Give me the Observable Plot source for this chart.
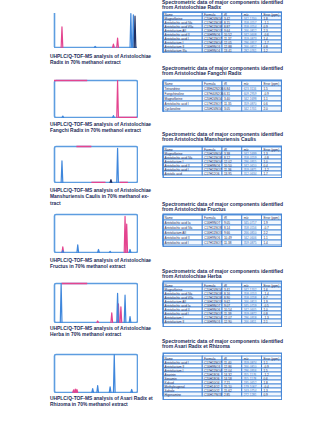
<!DOCTYPE html>
<html>
<head>
<meta charset="utf-8">
<script src="https://cdn.jsdelivr.net/npm/d3@7"></script>
<script src="https://cdn.jsdelivr.net/npm/@observablehq/plot@0.6"></script>
<style>
  html, body { margin: 0; padding: 0; background: #fff; }
  #page { position: relative; width: 334px; height: 439px; overflow: hidden; background: #fff; }
  .abs { position: absolute; }
  .cap, .ttl { font-family: "Liberation Sans", Arial, sans-serif; font-weight: bold; color: #1c2b58; white-space: nowrap; }
  .cap { font-size: 4.9px; line-height: 6.6px; }
  .ttl { font-size: 5px; line-height: 5.2px; }
  svg { display: block; }
</style>
</head>
<body>
<div id="page"></div>
<script>
// ---------- DATA ----------
const samples = [
  "Aristolochiae Radix",
  "Aristolochiae Fangchi Radix",
  "Aristolochia Manshuriensis Caulis",
  "Aristolochiae Fructus",
  "Aristolochiae Herba",
  "Asari Radix et Rhizoma"
];

const captions = [
  ["UHPLC/Q-TOF-MS analysis of Aristolochiae", "Radix in 70% methanol extract"],
  ["UHPLC/Q-TOF-MS analysis of Aristolochiae", "Fangchi Radix in 70% methanol extract"],
  ["UHPLC/Q-TOF-MS analysis of Aristolochiae", "Manshuriensis Caulis in 70% methanol ex-", "tract"],
  ["UHPLC/Q-TOF-MS analysis of Aristolochiae", "Fructus in 70% methanol extract"],
  ["UHPLC/Q-TOF-MS analysis of Aristolochiae", "Herba in 70% methanol extract"],
  ["UHPLC/Q-TOF-MS analysis of Asari Radix et", "Rhizoma in 70% methanol extract"]
];

const tableTitles = [
  ["Spectrometric data of major components identified", "from Aristolochiae Radix"],
  ["Spectrometric data of major components identified", "from Aristolochiae Fangchi Radix"],
  ["Spectrometric data of major components identified", "from Aristolochia Manshuriensis Caulis"],
  ["Spectrometric data of major components identified", "from Aristolochiae Fructus"],
  ["Spectrometric data of major components identified", "from Aristolochiae Herba"],
  ["Spectrometric data of major components identified", "from Asari Radix et Rhizoma"]
];

const tableHeader = ["Name", "Formula", "tR", "m/z", "Error (ppm)"];

// chromatogram peaks: [retention position (0-100), relative height (0-100)]
const bluePeaks1 = [[49, 3], [92, 100], [95, 96]];
const pinkPeaks1 = [[9, 61], [71, 10], [76, 28]];
const darkPeaks1 = [[97, 92]];

const bluePeaks2 = [[10, 4], [71, 5]];
const pinkPeaks2 = [[76, 100]];
const pinkSegs2 = [[0, 40, 100], [77, 100, 0]];

const bluePeaks3 = [[9, 60], [76, 95]];
const pinkPeaks3 = [];
const darkPeaks3 = [[68, 8]];
const pinkSegs3 = [[27, 45, 100], [45, 62, 0], [79, 89, 0]];

const bluePeaks4 = [[10, 5], [28, 20], [53, 8], [67, 3], [91, 8]];
const pinkPeaks4 = [[10, 15], [85, 95], [87, 75]];

const bluePeaks5 = [[8, 100], [76, 75], [85, 70], [91, 15]];
const pinkPeaks5 = [[52, 4], [69, 25], [77, 48], [80, 40]];
const pinkSegs5 = [[9, 40, 100]];

const bluePeaks6 = [[46, 10], [52, 18], [67, 15], [72, 100], [93, 8]];
const pinkPeaks6 = [[23, 7], [25, 9], [27, 8]];

const rows1 = [
  ["Magnoflorine", "C20H24NO4", "3.42", "342.1700", "1.8"],
  ["Aristolochic acid IVa", "C17H11NO8", "8.15", "358.0557", "-1.1"],
  ["Aristolochic acid VIIa", "C17H11NO8", "8.87", "358.0554", "0.9"],
  ["Aristolactam AII", "C16H11NO3", "9.64", "266.0812", "2.3"],
  ["Aristolochic acid II", "C16H9NO6", "10.52", "342.0608", "-0.6"],
  ["Aristolochic acid I", "C17H11NO7", "11.37", "359.0873", "1.4"],
  ["Aristolactam I", "C17H11NO4", "12.05", "296.0917", "-1.7"],
  ["Aristolactam II", "C16H9NO3", "12.88", "266.0812", "0.8"],
  ["Aristolactam IIIa", "C16H9NO4", "13.41", "282.0761", "1.2"]
];
const rows2 = [
  ["Tetrandrine", "C38H42N2O6", "6.84", "623.3116", "1.5"],
  ["Fangchinoline", "C37H40N2O6", "6.31", "609.2959", "-0.9"],
  ["Magnoflorine", "C20H24NO4", "3.40", "342.1698", "1.1"],
  ["Aristolochic acid I", "C17H11NO7", "11.35", "359.0870", "0.6"],
  ["Cyclanoline", "C20H24NO4", "3.05", "342.1701", "2.0"]
];
const rows3 = [
  ["Magnoflorine", "C20H24NO4", "3.38", "342.1699", "1.3"],
  ["Aristolochic acid IVa", "C17H11NO8", "8.12", "358.0559", "-0.8"],
  ["Aristolactam I", "C17H11NO4", "12.02", "296.0915", "1.0"],
  ["Aristolochic acid II", "C16H9NO6", "10.50", "342.0610", "0.4"],
  ["Aristolochic acid I", "C17H11NO7", "11.36", "359.0871", "-1.2"],
  ["Aristolic acid", "C17H12O6", "13.95", "312.0634", "1.7"]
];
const rows4 = [
  ["Aristolochic acid Ia", "C16H9NO7", "9.05", "345.0717", "1.9"],
  ["Aristolochic acid IVa", "C17H11NO8", "8.14", "358.0556", "-0.7"],
  ["Aristolactam AII", "C16H11NO3", "9.66", "266.0810", "2.2"],
  ["Aristolochic acid II", "C16H9NO6", "10.49", "342.0606", "1.1"],
  ["Aristolochic acid I", "C17H11NO7", "11.38", "359.0875", "1.4"]
];
const rows5 = [
  ["Magnoflorine", "C20H24NO4", "3.41", "342.1702", "1.6"],
  ["Aristolochic acid IVa", "C17H11NO8", "8.16", "358.0553", "-1.4"],
  ["Aristolochic acid VIIa", "C17H11NO8", "8.90", "358.0558", "0.7"],
  ["Aristolactam AII", "C16H11NO3", "9.62", "266.0813", "1.9"],
  ["Aristolochic acid Ia", "C16H9NO7", "9.07", "345.0719", "-0.5"],
  ["Aristolochic acid II", "C16H9NO6", "10.54", "342.0605", "1.0"],
  ["Aristolochic acid I", "C17H11NO7", "11.39", "359.0872", "0.8"],
  ["Aristolactam I", "C17H11NO4", "12.07", "296.0918", "-1.3"],
  ["Aristolactam II", "C16H9NO3", "12.90", "266.0811", "2.1"]
];
const rows6 = [
  ["Aristolochic acid I", "C17H11NO7", "11.40", "359.0874", "1.1"],
  ["Aristolactam II", "C16H9NO3", "12.86", "266.0810", "-0.9"],
  ["Aristolactam I", "C17H11NO4", "12.04", "296.0916", "1.5"],
  ["Asarinin", "C20H18O6", "14.32", "355.1176", "-1.2"],
  ["Sesamin", "C20H18O6", "14.58", "355.1178", "0.6"],
  ["Kakuol", "C10H10O4", "7.21", "195.0652", "1.8"],
  ["Methyleugenol", "C11H14O2", "15.10", "179.1067", "-0.4"],
  ["Safrole", "C10H10O2", "15.62", "163.0754", "1.3"],
  ["Higenamine", "C16H17NO3", "2.85", "272.1281", "0.9"]
];

// ---------- STYLE / LAYOUT ----------
const BLUE = "#3f87dc";
const FRAME = "#5d9de0";
const PINK = "#e4448f";
const DARK = "#1f2f62";
const TBL = "#4485d6";

const layout = [
  {chrom: [12, 48], cap: 53.5, title: 0, table: [10.5, 53]},
  {chrom: [79, 118], cap: 121.5, title: 65.5, table: [78.5, 112]},
  {chrom: [145, 183], cap: 187.5, title: 131.5, table: [145, 178]},
  {chrom: [213, 253], cap: 257.5, title: 201.5, table: [213, 247]},
  {chrom: [282, 323], cap: 325.5, title: 268.5, table: [280, 327]},
  {chrom: [353, 393], cap: 395.5, title: 338.5, table: [352, 400]}
];

const chromData = [
  {blue: bluePeaks1, pink: pinkPeaks1, dark: darkPeaks1, segs: [], axesOnly: true},
  {blue: bluePeaks2, pink: pinkPeaks2, dark: [], segs: pinkSegs2},
  {blue: bluePeaks3, pink: pinkPeaks3, dark: darkPeaks3, segs: pinkSegs3},
  {blue: bluePeaks4, pink: pinkPeaks4, dark: [], segs: []},
  {blue: bluePeaks5, pink: pinkPeaks5, dark: [], segs: pinkSegs5},
  {blue: bluePeaks6, pink: pinkPeaks6, dark: [], segs: []}
];
const tableRows = [rows1, rows2, rows3, rows4, rows5, rows6];

const page = document.getElementById("page");

function place(el, left, top) {
  el.classList.add("abs");
  el.style.left = left + "px";
  el.style.top = top + "px";
  page.appendChild(el);
}

function peakLines(peaks, key) {
  return peaks.flatMap(([t, h], i) => [
    {t: t - 1, v: 0, id: key + i},
    {t: t, v: h, id: key + i},
    {t: t + 1, v: 0, id: key + i}
  ]);
}

function chromatogram(d, h) {
  const marks = [];
  if (d.axesOnly) {
    marks.push(Plot.ruleX([0], {stroke: FRAME, strokeWidth: 1.6}));
    marks.push(Plot.ruleY([0], {stroke: FRAME, strokeWidth: 1.6}));
  } else {
    marks.push(Plot.frame({stroke: FRAME, strokeWidth: 1.6, rx: 1.5}));
  }
  marks.push(Plot.ruleY(d.segs, {x1: (s) => s[0], x2: (s) => s[1], y: (s) => s[2], stroke: PINK, strokeWidth: 1.6}));
  marks.push(Plot.line(peakLines(d.pink, "p"), {x: "t", y: "v", z: "id", stroke: PINK, strokeWidth: 1.2}));
  marks.push(Plot.line(peakLines(d.blue, "b"), {x: "t", y: "v", z: "id", stroke: BLUE, strokeWidth: 1.2}));
  marks.push(Plot.line(peakLines(d.dark, "d"), {x: "t", y: "v", z: "id", stroke: DARK, strokeWidth: 1.2}));
  return Plot.plot({
    width: 85, height: h,
    marginTop: 1, marginBottom: 1, marginLeft: 1, marginRight: 1,
    x: {domain: [0, 100], axis: null},
    y: {domain: [0, 100], axis: null},
    marks
  });
}

const colStart = [0, 2, 3, 4, 5];
const colEnd = [2, 3, 4, 5, 6];

function table(rows, h) {
  const all = [tableHeader, ...rows];
  const cells = [];
  all.forEach((r, i) => r.forEach((v, j) => cells.push({row: i, col: j, x1: colStart[j], x2: colEnd[j], text: v})));
  return Plot.plot({
    width: 120, height: h,
    marginTop: 0.7, marginBottom: 0.7, marginLeft: 0.7, marginRight: 0.7,
    x: {domain: [0, 6], axis: null},
    y: {type: "band", domain: d3.range(all.length), padding: 0, axis: null},
    marks: [
      Plot.barX(cells, {x1: "x1", x2: "x2", y: "row", fill: (d) => (d.row % 2 ? "#f2f7fe" : "white"), stroke: TBL, strokeWidth: 0.9}),
      Plot.text(cells, {
        x: (d) => d.x1 + 0.07, y: "row", text: "text", textAnchor: "start",
        fontSize: 3.1, fontWeight: (d) => (d.row === 0 ? "bold" : "normal"),
        fontFamily: "Liberation Sans, Arial, sans-serif",
        fill: (d) => (d.col === 3 && d.row > 0 ? "#3a74c4" : "#1c2b58")
      }),
      Plot.frame({stroke: TBL, strokeWidth: 1.4})
    ]
  });
}

layout.forEach((L, i) => {
  place(chromatogram(chromData[i], L.chrom[1] - L.chrom[0]), 53, L.chrom[0]);
  const cap = document.createElement("div");
  cap.className = "cap";
  cap.innerHTML = captions[i].join("<br>");
  place(cap, 50, L.cap);
  const ttl = document.createElement("div");
  ttl.className = "ttl";
  ttl.innerHTML = tableTitles[i].join("<br>");
  place(ttl, 162, L.title);
  place(table(tableRows[i], L.table[1] - L.table[0]), 162, L.table[0]);
});
</script>
</body>
</html>
